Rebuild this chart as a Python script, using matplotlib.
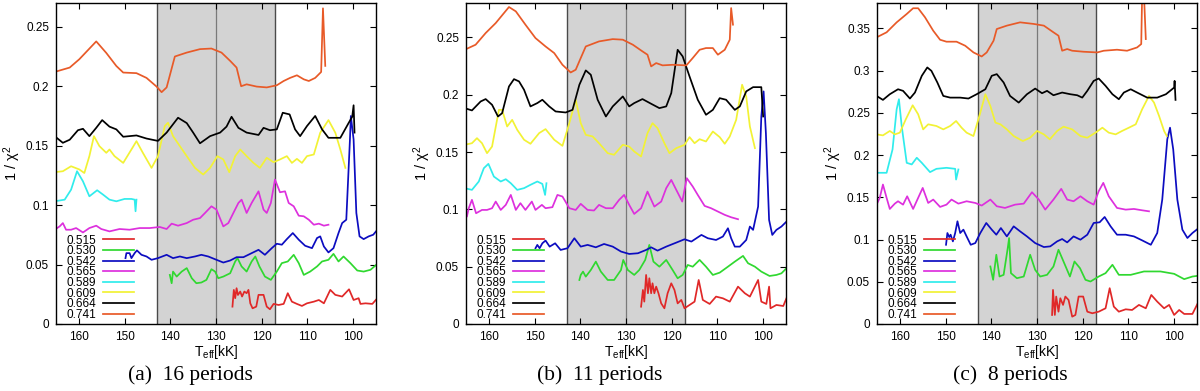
import matplotlib
matplotlib.use("Agg")
import matplotlib.pyplot as plt
import matplotlib.ticker as ticker
import numpy as np

plt.rcParams['font.family'] = ['Liberation Sans', 'DejaVu Sans']
plt.rcParams['mathtext.default'] = 'regular'

masses = ['0.515', '0.530', '0.542', '0.565', '0.589', '0.609', '0.664', '0.741']
colors = ['#e02828', '#30d830', '#0c0cc0', '#dd30dd', '#30ecec', '#f2f235', '#000000', '#e85a28']
captions = ['(a)  16 periods', '(b)  11 periods', '(c)  8 periods']
ymax = [0.27, 0.28, 0.38]
ystep = [0.05, 0.05, 0.05]

# ---- panel (a): 16 periods, (Teff [kK], 1/chi^2) ----
a515 = [(126.4, 0.0146), (126.1, 0.0287), (125.8, 0.0217), (125.5, 0.0301), (125.2, 0.0244), (124.7, 0.0273),
        (124.3, 0.0231), (123.8, 0.0273), (123.3, 0.0259), (122.9, 0.0287), (122.5, 0.0174), (122.0, 0.0132),
        (121.2, 0.0146), (120.7, 0.0245), (119.6, 0.0245), (118.9, 0.0146), (118.2, 0.0124), (117.4, 0.0169),
        (116.3, 0.016), (115.2, 0.0169), (114.3, 0.0259), (113.4, 0.0188), (112.3, 0.0169), (111.2, 0.0152),
        (110.1, 0.0174), (108.6, 0.0188), (107.5, 0.0202), (106.4, 0.0174), (105.0, 0.0287), (103.9, 0.0245),
        (102.4, 0.0231), (100.9, 0.0292), (99.9, 0.0202), (98.8, 0.0217), (98.4, 0.0169), (97.3, 0.0174),
        (95.8, 0.0169), (94.7, 0.0217)]
a530 = [(140.1, 0.0413), (139.7, 0.0343), (139.4, 0.0441), (138.6, 0.0399), (137.5, 0.0441), (136.4, 0.047),
        (135.3, 0.0385), (134.3, 0.0343), (133.2, 0.0349), (132.1, 0.0371), (131.0, 0.0461), (130.2, 0.0441),
        (129.5, 0.0385), (128.4, 0.0399), (126.9, 0.0427), (125.8, 0.0526), (125.3, 0.0554), (124.4, 0.0484),
        (123.3, 0.0441), (122.2, 0.0526), (121.4, 0.0568), (120.5, 0.0484), (119.3, 0.0399), (118.0, 0.0371),
        (116.7, 0.0441), (115.6, 0.0512), (114.3, 0.0526), (113.0, 0.0582), (111.9, 0.0512), (110.8, 0.0413),
        (109.4, 0.0441), (107.9, 0.0484), (106.8, 0.0526), (105.4, 0.054), (104.3, 0.059), (103.2, 0.0526),
        (102.1, 0.0568), (100.6, 0.0512), (99.1, 0.045), (97.7, 0.0441), (96.2, 0.0456), (94.7, 0.0506)]
a542 = [(149.8, 0.0554), (149.6, 0.0596), (148.9, 0.0596), (148.5, 0.0554), (147.8, 0.0596), (147.3, 0.0619),
        (146.3, 0.0582), (145.2, 0.0568), (144.1, 0.054), (142.7, 0.0554), (140.8, 0.0582), (139.4, 0.0554),
        (137.9, 0.0568), (136.4, 0.0554), (134.6, 0.0568), (133.2, 0.0582), (131.7, 0.0568), (129.9, 0.054),
        (128.4, 0.0517), (126.9, 0.0534), (125.5, 0.0562), (124.0, 0.0562), (122.2, 0.0596), (120.7, 0.0624),
        (119.3, 0.0582), (117.8, 0.0638), (116.7, 0.0675), (115.6, 0.0667), (114.5, 0.0714), (113.2, 0.0765),
        (111.9, 0.0709), (110.5, 0.0658), (109.0, 0.0638), (107.9, 0.0723), (107.2, 0.0737), (106.4, 0.0652),
        (105.4, 0.0602), (104.3, 0.0638), (103.2, 0.0765), (102.4, 0.0849), (101.5, 0.0877), (100.7, 0.1552),
        (100.5, 0.175), (99.9, 0.1552), (99.3, 0.0934), (98.6, 0.0737), (97.7, 0.0714), (96.6, 0.0737),
        (95.6, 0.0751), (94.7, 0.0793)]
a565 = [(165.3, 0.0793), (164.2, 0.0821), (163.5, 0.0849), (162.8, 0.0793), (161.7, 0.0793), (160.6, 0.0807),
        (159.1, 0.077), (157.7, 0.0807), (156.2, 0.0827), (155.1, 0.0799), (153.3, 0.0779), (151.1, 0.0799),
        (148.9, 0.0793), (146.7, 0.0807), (144.5, 0.0807), (142.3, 0.0816), (140.8, 0.0799), (139.7, 0.0844),
        (138.3, 0.0827), (136.4, 0.0849), (135.0, 0.0877), (133.5, 0.0891), (132.4, 0.0934), (131.0, 0.099),
        (129.9, 0.0962), (128.4, 0.0821), (127.3, 0.0849), (126.2, 0.0934), (125.1, 0.1018), (124.4, 0.1046),
        (123.3, 0.0934), (122.2, 0.1018), (120.7, 0.1116), (119.6, 0.0962), (118.9, 0.0934), (118.0, 0.1018),
        (117.1, 0.1215), (116.0, 0.1108), (114.9, 0.1116), (114.1, 0.1018), (113.0, 0.099), (111.9, 0.0911),
        (110.8, 0.0906), (109.7, 0.0877), (108.6, 0.0835), (107.5, 0.0844), (106.4, 0.0827), (105.4, 0.0835)]
a589 = [(165.3, 0.1032), (163.1, 0.1046), (161.7, 0.113), (160.4, 0.1285), (159.1, 0.12), (157.7, 0.1074),
        (156.0, 0.1125), (154.7, 0.1088), (153.3, 0.1046), (151.8, 0.1032), (150.0, 0.1052), (148.5, 0.1052),
        (147.8, 0.1046), (147.6, 0.0948), (147.4, 0.1046)]
a609 = [(165.3, 0.1277), (163.5, 0.1285), (161.7, 0.1327), (159.9, 0.13), (158.8, 0.127), (157.7, 0.1412),
        (156.7, 0.158), (155.5, 0.1496), (154.0, 0.144), (153.3, 0.1468), (152.2, 0.1412), (150.3, 0.1355),
        (148.5, 0.1468), (147.4, 0.1538), (146.0, 0.144), (144.1, 0.1313), (142.7, 0.1412), (141.2, 0.1665),
        (140.5, 0.1693), (139.4, 0.158), (137.9, 0.1496), (136.4, 0.1412), (134.6, 0.1313), (132.8, 0.1257),
        (131.3, 0.1313), (129.7, 0.1412), (128.4, 0.1384), (127.1, 0.1277), (125.8, 0.1412), (124.7, 0.1468),
        (123.3, 0.1412), (121.8, 0.1355), (120.4, 0.1313), (118.9, 0.1398), (117.4, 0.1361), (116.0, 0.1384),
        (114.5, 0.1412), (113.4, 0.1355), (112.3, 0.1389), (111.2, 0.1355), (110.1, 0.1412), (108.6, 0.1426),
        (107.2, 0.1609), (105.4, 0.1715), (103.9, 0.1609), (102.8, 0.1468), (101.7, 0.1313)]
a664 = [(165.3, 0.158), (163.5, 0.1524), (162.0, 0.155), (160.2, 0.163), (159.1, 0.1642), (157.7, 0.158),
        (156.2, 0.165), (154.9, 0.1715), (153.3, 0.166), (151.8, 0.1637), (150.3, 0.1575), (147.4, 0.1586),
        (145.2, 0.156), (142.7, 0.154), (140.8, 0.161), (138.3, 0.1735), (136.4, 0.169), (135.0, 0.161),
        (133.5, 0.152), (131.3, 0.158), (129.1, 0.161), (127.7, 0.166), (126.6, 0.1743), (125.1, 0.165),
        (123.3, 0.161), (120.7, 0.159), (119.6, 0.165), (118.2, 0.163), (116.7, 0.1637), (115.4, 0.1777),
        (113.9, 0.1763), (112.7, 0.1637), (111.6, 0.158), (110.1, 0.1665), (108.3, 0.175), (106.8, 0.1637),
        (105.4, 0.1566), (102.8, 0.1566), (101.0, 0.169), (100.2, 0.1743), (99.9, 0.184), (99.7, 0.161)]
a741 = [(165.3, 0.212), (162.0, 0.2157), (159.9, 0.2227), (156.2, 0.2377), (154.0, 0.228), (151.8, 0.217),
        (150.3, 0.2115), (147.4, 0.211), (145.2, 0.207), (143.0, 0.1997), (141.9, 0.195), (140.8, 0.199),
        (139.0, 0.225), (136.4, 0.2283), (133.5, 0.2312), (131.0, 0.2317), (128.8, 0.2283), (126.9, 0.2213),
        (125.5, 0.2157), (124.5, 0.2), (123.3, 0.2016), (121.1, 0.1997), (118.9, 0.199), (116.7, 0.2008),
        (115.2, 0.2044), (113.8, 0.207), (112.3, 0.2092), (110.8, 0.2058), (109.7, 0.2044), (108.3, 0.207),
        (107.0, 0.212), (106.6, 0.2655), (106.1, 0.2171)]

# ---- panel (b): 11 periods ----
b515 = [(126.7, 0.0151), (126.3, 0.0297), (126.0, 0.0195), (125.6, 0.0428), (125.2, 0.0268), (124.9, 0.0399),
        (124.5, 0.0268), (124.2, 0.0355), (123.8, 0.0268), (123.4, 0.0326), (122.9, 0.0268), (122.3, 0.018),
        (121.6, 0.0137), (120.9, 0.0268), (120.1, 0.0355), (119.4, 0.0297), (118.7, 0.018), (117.9, 0.021),
        (117.2, 0.0137), (116.1, 0.0166), (115.0, 0.0195), (114.1, 0.0384), (113.2, 0.021), (111.7, 0.0175),
        (110.3, 0.0239), (108.8, 0.0224), (107.3, 0.0195), (105.5, 0.0326), (104.0, 0.0268), (102.9, 0.0239),
        (101.1, 0.0384), (100.4, 0.0195), (99.3, 0.0175), (98.7, 0.0326), (98.4, 0.0137), (97.1, 0.0166),
        (95.6, 0.0157), (94.9, 0.0224)]
b530 = [(140.2, 0.0384), (139.9, 0.0428), (139.4, 0.0457), (138.8, 0.0413), (137.7, 0.0471), (136.6, 0.0544),
        (135.5, 0.0457), (134.0, 0.0384), (132.6, 0.0384), (131.1, 0.0471), (130.6, 0.0559), (129.6, 0.0471),
        (128.2, 0.0428), (127.1, 0.0471), (125.8, 0.0559), (124.9, 0.069), (124.0, 0.0544), (122.7, 0.05),
        (121.2, 0.0559), (119.8, 0.0471), (118.7, 0.0399), (117.6, 0.0428), (116.5, 0.0515), (115.4, 0.05),
        (113.9, 0.0559), (112.5, 0.05), (111.0, 0.0428), (109.5, 0.0448), (107.7, 0.05), (106.2, 0.0544),
        (104.4, 0.0594), (103.3, 0.053), (101.8, 0.05), (100.4, 0.0457), (98.6, 0.0419), (97.1, 0.0428),
        (96.0, 0.0442), (94.9, 0.0486)]
b542 = [(149.8, 0.0661), (149.4, 0.069), (148.9, 0.0661), (148.3, 0.0704), (147.6, 0.0728), (146.7, 0.0675),
        (145.5, 0.0704), (144.3, 0.0646), (142.8, 0.0661), (141.3, 0.0748), (139.9, 0.0675), (138.4, 0.069),
        (136.6, 0.0669), (134.8, 0.0698), (132.9, 0.0675), (131.1, 0.0632), (129.3, 0.0611), (127.4, 0.0617),
        (125.6, 0.0646), (124.5, 0.0669), (123.1, 0.064), (121.2, 0.0675), (119.0, 0.071), (117.2, 0.0739),
        (115.7, 0.0719), (113.5, 0.0777), (112.1, 0.0748), (110.3, 0.0733), (108.8, 0.0763), (107.7, 0.0835),
        (107.0, 0.0748), (106.2, 0.0675), (105.1, 0.0675), (103.7, 0.0733), (102.9, 0.085), (102.2, 0.0821),
        (101.1, 0.1024), (100.4, 0.181), (99.9, 0.2029), (99.4, 0.1665), (98.7, 0.0908), (98.0, 0.0777),
        (97.1, 0.0821), (96.0, 0.085), (94.9, 0.0893)]
b565 = [(165.3, 0.0966), (164.8, 0.0937), (164.4, 0.101), (163.7, 0.1083), (162.8, 0.0966), (161.5, 0.0995),
        (160.4, 0.0995), (159.3, 0.101), (158.5, 0.1068), (157.4, 0.0995), (156.3, 0.1039), (155.2, 0.1126),
        (154.1, 0.0995), (153.1, 0.1054), (152.0, 0.0995), (150.6, 0.1068), (149.8, 0.0995), (148.4, 0.1039),
        (147.6, 0.101), (146.1, 0.1019), (145.0, 0.1126), (143.9, 0.1112), (142.4, 0.101), (141.0, 0.0995),
        (139.9, 0.1048), (138.4, 0.0995), (137.0, 0.099), (135.9, 0.1039), (134.4, 0.101), (132.9, 0.101),
        (131.5, 0.1083), (130.4, 0.1126), (129.3, 0.1039), (128.2, 0.096), (126.7, 0.101), (125.3, 0.1155),
        (123.8, 0.1024), (122.3, 0.1068), (121.2, 0.1185), (120.1, 0.1257), (119.0, 0.117), (117.7, 0.1068),
        (116.7, 0.1272), (115.4, 0.1199), (114.3, 0.1126), (112.8, 0.103), (111.4, 0.101), (109.9, 0.0981),
        (108.4, 0.0952), (107.0, 0.0931), (105.5, 0.0914)]
b589 = [(165.3, 0.1185), (163.7, 0.117), (162.2, 0.1243), (161.1, 0.1359), (160.1, 0.1397), (158.9, 0.1286),
        (157.4, 0.1243), (156.3, 0.1263), (155.2, 0.1228), (153.8, 0.117), (152.3, 0.1185), (150.9, 0.1214),
        (149.4, 0.1243), (148.3, 0.1222), (147.7, 0.1126), (147.4, 0.1228)]
b609 = [(165.3, 0.1563), (163.7, 0.1577), (162.6, 0.1621), (161.5, 0.1577), (160.4, 0.149), (159.3, 0.1548),
        (157.8, 0.1868), (157.1, 0.1868), (156.0, 0.1723), (154.9, 0.1781), (153.8, 0.1694), (152.3, 0.1607),
        (150.9, 0.1572), (149.0, 0.1665), (147.6, 0.17), (145.7, 0.1607), (143.9, 0.1554), (142.4, 0.1752),
        (141.0, 0.1956), (139.9, 0.1752), (138.8, 0.165), (137.3, 0.1636), (135.9, 0.1577), (134.0, 0.149),
        (132.6, 0.1476), (130.7, 0.1563), (129.3, 0.1548), (128.2, 0.1505), (126.7, 0.1461), (125.3, 0.1665),
        (124.2, 0.1752), (123.1, 0.1708), (121.6, 0.1577), (120.5, 0.149), (119.0, 0.1534), (117.2, 0.1563),
        (116.1, 0.163), (115.0, 0.1577), (113.9, 0.1612), (112.5, 0.1592), (111.0, 0.1679), (109.5, 0.163),
        (108.4, 0.1572), (107.3, 0.1636), (105.9, 0.1781), (104.6, 0.2087), (103.7, 0.1985), (102.9, 0.1723),
        (101.8, 0.1534)]
b664 = [(165.3, 0.1883), (163.7, 0.1863), (161.8, 0.1941), (160.7, 0.1962), (159.3, 0.1912), (158.0, 0.181),
        (157.1, 0.1839), (155.6, 0.2072), (154.5, 0.2136), (153.4, 0.2116), (152.3, 0.2043), (150.9, 0.1898),
        (149.4, 0.1927), (148.3, 0.1956), (146.8, 0.1898), (145.4, 0.1854), (143.2, 0.1845), (141.7, 0.1868),
        (140.2, 0.2087), (138.8, 0.2212), (137.7, 0.2174), (136.2, 0.1956), (134.4, 0.181), (132.9, 0.1898),
        (130.7, 0.1985), (129.3, 0.1898), (128.2, 0.1927), (126.4, 0.1962), (124.5, 0.1921), (122.7, 0.1883),
        (121.2, 0.1898), (120.1, 0.2014), (118.7, 0.2392), (117.6, 0.2334), (116.1, 0.2159), (114.3, 0.1956),
        (112.5, 0.1825), (111.0, 0.1868), (109.5, 0.197), (108.1, 0.1956), (106.2, 0.1868), (105.1, 0.1898),
        (103.7, 0.2029), (102.2, 0.2066), (100.4, 0.2066), (100.0, 0.181)]
b741 = [(165.3, 0.2392), (162.9, 0.2436), (160.7, 0.2538), (158.5, 0.2625), (156.7, 0.2712), (155.6, 0.2765),
        (154.1, 0.2727), (152.0, 0.2611), (149.8, 0.2494), (147.6, 0.2421), (145.7, 0.2363), (143.9, 0.2261),
        (142.1, 0.2194), (141.0, 0.2218), (139.9, 0.232), (138.8, 0.2421), (135.9, 0.2465), (132.9, 0.2485),
        (130.7, 0.248), (128.5, 0.2436), (126.4, 0.2378), (125.3, 0.2349), (124.5, 0.2247), (123.4, 0.2276),
        (122.0, 0.2256), (119.8, 0.2261), (116.8, 0.2256), (115.4, 0.232), (113.9, 0.2392), (112.5, 0.2407),
        (111.0, 0.2407), (109.9, 0.2349), (108.4, 0.2392), (107.3, 0.248), (107.0, 0.2756), (106.6, 0.2611)]

# ---- panel (c): 8 periods ----
c515 = [(126.7, 0.0107), (126.5, 0.0404), (126.1, 0.0107), (125.8, 0.0325), (125.3, 0.0146), (124.9, 0.0305),
        (124.3, 0.0226), (123.8, 0.0325), (123.1, 0.0285), (122.3, 0.0087), (121.6, 0.0107), (120.9, 0.0325),
        (119.9, 0.0325), (119.0, 0.0146), (117.9, 0.0127), (116.5, 0.0146), (115.0, 0.0186), (114.1, 0.0424),
        (113.2, 0.0206), (112.1, 0.0146), (110.6, 0.0174), (109.2, 0.0166), (107.7, 0.0226), (106.2, 0.0186),
        (105.0, 0.0344), (103.7, 0.0265), (102.2, 0.0186), (101.1, 0.0226), (100.0, 0.0107), (98.9, 0.0166),
        (97.8, 0.0119), (96.0, 0.0119), (94.9, 0.0238)]
c530 = [(140.2, 0.0681), (139.6, 0.0523), (138.9, 0.082), (138.2, 0.0562), (137.3, 0.0582), (136.4, 0.0899),
        (136.1, 0.1018), (135.7, 0.0602), (134.4, 0.0542), (132.9, 0.0562), (131.5, 0.082), (130.4, 0.0641),
        (129.3, 0.0562), (127.8, 0.0582), (126.4, 0.0681), (125.3, 0.0879), (124.2, 0.074), (122.8, 0.0562),
        (121.8, 0.074), (120.6, 0.0661), (119.4, 0.0523), (118.3, 0.0503), (116.5, 0.0562), (115.0, 0.0602),
        (113.5, 0.0701), (112.1, 0.0582), (109.5, 0.0582), (106.6, 0.0622), (103.0, 0.0622), (100.0, 0.0594),
        (97.8, 0.0531), (96.0, 0.0562), (94.9, 0.057)]
c542 = [(149.9, 0.0938), (149.6, 0.1077), (149.2, 0.1029), (148.9, 0.1057), (148.4, 0.0978), (147.9, 0.1077),
        (147.4, 0.1216), (146.8, 0.1077), (146.1, 0.1117), (145.4, 0.1037), (144.5, 0.0938), (143.5, 0.0958),
        (142.4, 0.1077), (141.1, 0.1196), (139.9, 0.1117), (138.9, 0.1057), (137.9, 0.1136), (136.6, 0.1037),
        (135.1, 0.1156), (133.7, 0.1097), (132.2, 0.1037), (130.4, 0.0958), (128.5, 0.0911), (127.1, 0.0919),
        (125.6, 0.0978), (124.5, 0.1006), (123.4, 0.0966), (122.0, 0.1037), (120.5, 0.0998), (119.0, 0.1057),
        (117.6, 0.1196), (116.3, 0.1204), (115.2, 0.1267), (113.9, 0.1156), (112.5, 0.1057), (110.6, 0.1057),
        (108.8, 0.1037), (107.0, 0.099), (105.1, 0.0938), (103.7, 0.1077), (102.6, 0.1473), (101.5, 0.2186),
        (100.9, 0.2324), (100.2, 0.2067), (99.3, 0.1473), (98.2, 0.1117), (97.1, 0.1018), (96.0, 0.1077),
        (94.9, 0.1124)]
c565 = [(165.1, 0.1413), (164.4, 0.1493), (163.7, 0.1651), (162.9, 0.1493), (162.2, 0.1362), (161.1, 0.1425),
        (160.4, 0.1453), (159.3, 0.1413), (158.4, 0.1512), (157.1, 0.1362), (156.0, 0.1493), (155.0, 0.1611),
        (153.8, 0.1433), (152.7, 0.1473), (151.2, 0.1386), (149.8, 0.1413), (148.7, 0.1473), (147.2, 0.1425),
        (145.4, 0.1453), (143.5, 0.1433), (142.1, 0.1402), (140.2, 0.1473), (138.8, 0.1394), (137.0, 0.1374),
        (134.8, 0.1413), (132.9, 0.1425), (131.1, 0.156), (129.6, 0.1473), (128.2, 0.1354), (126.4, 0.1473),
        (124.7, 0.16), (123.4, 0.1473), (122.0, 0.1453), (120.5, 0.1512), (119.0, 0.1453), (117.6, 0.1413),
        (116.5, 0.1572), (115.5, 0.1671), (114.3, 0.1512), (112.5, 0.1374), (110.6, 0.1354), (108.8, 0.1362),
        (107.0, 0.1346), (105.5, 0.1334)]
c589 = [(165.1, 0.179), (162.9, 0.179), (161.6, 0.2067), (160.7, 0.2542), (160.2, 0.2661), (159.6, 0.2344),
        (158.5, 0.1908), (157.4, 0.1889), (156.3, 0.1968), (155.2, 0.1908), (153.4, 0.1798), (152.0, 0.1837),
        (149.8, 0.1849), (147.9, 0.1837), (147.7, 0.171), (147.2, 0.1829)]
c609 = [(165.1, 0.2245), (163.7, 0.2233), (162.2, 0.2285), (161.1, 0.2245), (160.0, 0.2265), (158.7, 0.2423),
        (157.2, 0.2589), (156.0, 0.2483), (154.9, 0.2304), (153.8, 0.2364), (152.0, 0.2344), (150.5, 0.2304),
        (149.0, 0.2344), (147.7, 0.2403), (146.5, 0.2324), (145.4, 0.2265), (143.9, 0.2225), (142.4, 0.2502),
        (141.3, 0.272), (140.2, 0.2581), (139.1, 0.2384), (138.0, 0.2364), (136.6, 0.2304), (135.1, 0.2225),
        (133.1, 0.2166), (131.5, 0.2205), (130.0, 0.2285), (128.5, 0.2245), (127.2, 0.2186), (125.6, 0.2285),
        (124.2, 0.2336), (122.3, 0.2304), (120.5, 0.2225), (119.0, 0.2205), (117.2, 0.2265), (115.7, 0.2324),
        (114.3, 0.2265), (112.8, 0.2245), (111.4, 0.2285), (109.9, 0.2324), (108.4, 0.2364), (107.0, 0.2542),
        (105.5, 0.27), (104.4, 0.2621), (103.3, 0.2463), (102.2, 0.2285), (101.6, 0.2225)]
c664 = [(165.1, 0.27), (163.7, 0.2653), (162.2, 0.272), (160.4, 0.2779), (159.3, 0.276), (157.8, 0.2669),
        (156.7, 0.274), (155.2, 0.2938), (154.0, 0.3037), (153.1, 0.2997), (151.8, 0.2859), (150.5, 0.27),
        (149.0, 0.268), (146.8, 0.268), (145.0, 0.2669), (143.2, 0.272), (141.3, 0.2779), (139.9, 0.2938),
        (138.8, 0.2958), (137.3, 0.2859), (135.9, 0.27), (134.0, 0.2621), (132.2, 0.272), (130.4, 0.2787),
        (128.9, 0.2732), (127.8, 0.276), (126.4, 0.2708), (124.5, 0.274), (122.7, 0.272), (121.2, 0.2708),
        (120.1, 0.268), (119.0, 0.276), (117.6, 0.2878), (116.5, 0.2906), (115.0, 0.2819), (113.5, 0.272),
        (112.1, 0.2661), (111.0, 0.274), (109.5, 0.2779), (108.1, 0.274), (105.9, 0.268), (103.7, 0.268),
        (101.8, 0.272), (100.0, 0.2799), (99.9, 0.2878), (99.7, 0.2653)]
c741 = [(165.1, 0.3393), (162.9, 0.3453), (160.7, 0.3571), (158.5, 0.367), (157.1, 0.3738), (156.0, 0.3738),
        (154.5, 0.3631), (152.7, 0.3472), (151.2, 0.3365), (149.8, 0.3342), (147.6, 0.3342), (145.7, 0.3294),
        (143.9, 0.3215), (142.1, 0.3167), (141.0, 0.3215), (139.5, 0.3354), (138.8, 0.3492), (136.6, 0.3532),
        (133.7, 0.3571), (130.7, 0.3552), (128.5, 0.3532), (126.4, 0.3453), (125.3, 0.3413), (124.5, 0.3235),
        (123.4, 0.3255), (122.3, 0.3235), (119.8, 0.3223), (116.8, 0.3215), (115.4, 0.3235), (112.5, 0.3247),
        (110.3, 0.3235), (108.1, 0.3274), (107.2, 0.3314), (107.0, 0.39), (106.6, 0.39), (106.2, 0.3373)]

panels = [[a515, a530, a542, a565, a589, a609, a664, a741],
          [b515, b530, b542, b565, b589, b609, b664, b741],
          [c515, c530, c542, c565, c589, c609, c664, c741]]

fig = plt.figure(figsize=(12, 3.91), dpi=100)
lefts = [56, 466, 877]
caption_x = [190, 600, 1010]

for k in range(3):
    ax = fig.add_axes([lefts[k] / 1200, 67 / 391, 320 / 1200, 321 / 391])
    # shaded instability strip
    ax.axvspan(117, 143, color='#d3d3d3', lw=0, zorder=0)
    ax.axvline(143, color='#4a4a4a', lw=1.0, zorder=1)
    ax.axvline(117, color='#4a4a4a', lw=1.0, zorder=1)
    ax.axvline(130, color='#7a7a7a', lw=0.9, zorder=1)

    for series, col, m in zip(panels[k], colors, masses):
        arr = np.array(series)
        ax.plot(arr[:, 0], arr[:, 1], color=col, lw=1.25, label=m, zorder=2)

    ax.set_xlim(165, 95)
    ax.set_ylim(0, ymax[k])
    ax.xaxis.set_major_locator(ticker.MultipleLocator(10))
    ax.yaxis.set_major_locator(ticker.MultipleLocator(ystep[k]))
    ax.yaxis.set_major_formatter(ticker.FuncFormatter(lambda v, p: '%g' % round(v, 3)))
    ax.tick_params(direction='in', top=True, right=True, length=4, width=0.8,
                   labelsize=8.5, pad=5)
    for s in ax.spines.values():
        s.set_linewidth(1.0)
    ax.set_xlabel('T$_{eff}$[kK]', fontsize=10, labelpad=0)
    ax.set_ylabel('1 / $\\chi^2$', fontsize=10.5, labelpad=2)

    ax.legend(loc='lower left', bbox_to_anchor=(0.025, 0.003), frameon=False,
              markerfirst=False, handlelength=2.7, handletextpad=0.55,
              labelspacing=-0.12, borderaxespad=0, borderpad=0.2, fontsize=8.5)

    fig.text(caption_x[k] / 1200, 0.04, captions[k], ha='center', va='center',
             fontsize=15.5, family='Liberation Serif')

fig.savefig('out.png', dpi=100)
